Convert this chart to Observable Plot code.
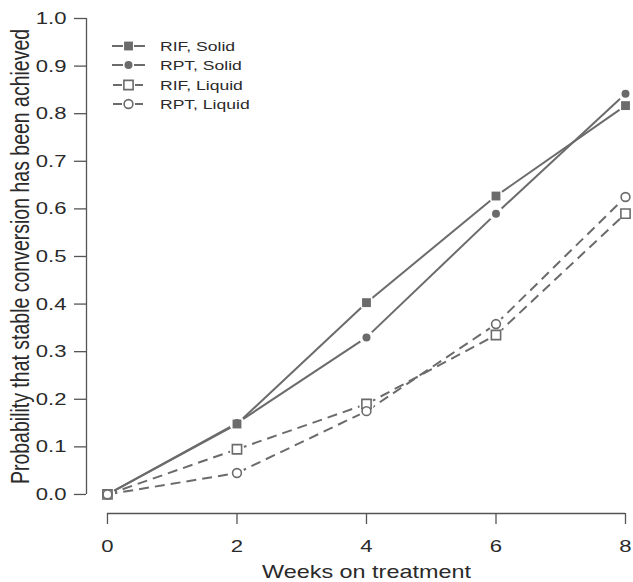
<!DOCTYPE html>
<html><head><meta charset="utf-8">
<script src="https://cdn.jsdelivr.net/npm/d3@7"></script>
<script src="https://cdn.jsdelivr.net/npm/@observablehq/plot@0.6"></script>
<style>
body{margin:0;background:#fff;}
#chart{position:relative;width:633px;height:582px;}
</style>
</head><body><div id="chart"></div>
<script>
// ---- data ----
const weeks = [0, 2, 4, 6, 8];
const seriesNames = ["RIF, Solid", "RPT, Solid", "RIF, Liquid", "RPT, Liquid"];
const rifSolid  = [0, 0.148, 0.403, 0.627, 0.817];
const rptSolid  = [0, 0.150, 0.330, 0.590, 0.842];
const rifLiquid = [0, 0.095, 0.190, 0.335, 0.590];
const rptLiquid = [0, 0.045, 0.175, 0.358, 0.625];
const xTicks = [0, 2, 4, 6, 8];
const yTicks = [0, 0.1, 0.2, 0.3, 0.4, 0.5, 0.6, 0.7, 0.8, 0.9, 1.0];
const xTitle = "Weeks on treatment";
const yTitle = "Probability that stable conversion has been achieved";

// ---- styles ----
const lineColor = "#6b6b6b";
const axisColor = "#555";
const textColor = "#2a2a2a";
const dash = "10,6";
const stretch = 1.3; // glyphs in the reference are horizontally widened
const font = "'Liberation Sans', Arial, sans-serif";

const series = [
  {name: seriesNames[0], values: rifSolid,  symbol: "square", filled: true,  dashed: false, r: 5},
  {name: seriesNames[1], values: rptSolid,  symbol: "circle", filled: true,  dashed: false, r: 4},
  {name: seriesNames[2], values: rifLiquid, symbol: "square", filled: false, dashed: true,  r: 5.2},
  {name: seriesNames[3], values: rptLiquid, symbol: "circle", filled: false, dashed: true,  r: 4.4}
];

const points = series.flatMap(s => weeks.map((w, i) => ({name: s.name, week: w, p: s.values[i], s})));
const segments = series.flatMap(s => weeks.slice(1).map((w, i) => ({
  name: s.name, x1: weeks[i], y1: s.values[i], x2: w, y2: s.values[i + 1], dashed: s.dashed
})));

const xDomain = [-0.324, 8];
const yDomain = [-0.04, 1];

const chart = Plot.plot({
  width: 633,
  height: 582,
  marginLeft: 86,
  marginRight: 8,
  marginTop: 18,
  marginBottom: 69,
  x: {domain: xDomain},
  y: {domain: yDomain},
  style: {fontFamily: font, fontSize: "17px", color: textColor, background: "#fff"},
  marks: [
    Plot.ruleY([yDomain[0]], {x1: xTicks[0], x2: xTicks[xTicks.length - 1], stroke: axisColor, strokeWidth: 1.3}),
    Plot.ruleX([xDomain[0]], {y1: yTicks[0], y2: yTicks[yTicks.length - 1], stroke: axisColor, strokeWidth: 1.3}),
    Plot.axisX({ticks: xTicks, tickSize: 11, tickPadding: 15, fontSize: 17, label: null, tickFormat: d => String(d), stroke: axisColor, strokeWidth: 1.3}),
    Plot.axisY({ticks: yTicks, tickSize: 12, tickPadding: 8, fontSize: 17, label: null, tickFormat: d3.format(".1f"), stroke: axisColor, strokeWidth: 1.3}),
    Plot.link(segments.filter(d => !d.dashed), {
      x1: "x1", y1: "y1", x2: "x2", y2: "y2", stroke: lineColor, strokeWidth: 2
    }),
    Plot.link(segments.filter(d => d.dashed), {
      x1: "x1", y1: "y1", x2: "x2", y2: "y2", stroke: lineColor, strokeWidth: 2, strokeDasharray: dash
    }),
    // white halo so that lines stop short of the symbols (R type = "b")
    Plot.dot(points, {x: "week", y: "p", r: 7.5, fill: "white", stroke: null}),
    Plot.dot(points.filter(d => d.s.filled && d.s.symbol === "square"), {x: "week", y: "p", symbol: "square", r: 5, fill: lineColor}),
    Plot.dot(points.filter(d => d.s.filled && d.s.symbol === "circle"), {x: "week", y: "p", symbol: "circle", r: 4, fill: lineColor}),
    Plot.dot(points.filter(d => !d.s.filled && d.s.symbol === "square"), {x: "week", y: "p", symbol: "square", r: 5.2, fill: "white", stroke: lineColor, strokeWidth: 1.6}),
    Plot.dot(points.filter(d => !d.s.filled && d.s.symbol === "circle"), {x: "week", y: "p", symbol: "circle", r: 4.4, fill: "white", stroke: lineColor, strokeWidth: 1.6}),
    Plot.text([xTitle], {x: 4, y: yDomain[0], dy: 59, text: d => d, fontSize: 18, fill: textColor}),
    Plot.text([yTitle], {x: xDomain[0], y: 0.5, dx: -66, rotate: -90, text: d => d, fontSize: 19.5, fill: textColor})
  ]
});

// ---- legend ----
const svg = d3.select(chart);
const lg = svg.append("g").attr("font-family", font).attr("font-size", 13.5).attr("text-anchor", "start");
const rowY = [46, 65, 85, 104];
series.forEach((s, i) => {
  const y = rowY[i];
  const g = lg.append("g");
  const segs = s.dashed ? [[113, 122], [135, 143]] : [[112, 123], [134, 145]];
  segs.forEach(([a, b]) => g.append("line").attr("x1", a).attr("x2", b).attr("y1", y).attr("y2", y)
    .attr("stroke", lineColor).attr("stroke-width", 2));
  const sym = s.symbol === "square" ? d3.symbolSquare : d3.symbolCircle;
  const size = Math.PI * s.r * s.r;
  g.append("path").attr("d", d3.symbol(sym, size)()).attr("transform", `translate(128.5,${y})`)
    .attr("fill", s.filled ? lineColor : "white")
    .attr("stroke", s.filled ? "none" : lineColor).attr("stroke-width", 1.6);
  g.append("text").attr("x", 160).attr("y", y).attr("dy", "0.35em").attr("fill", textColor).text(s.name);
});

// widen glyphs around their anchor, as in the reference
const isNum = v => v != null && /^-?[\d.]+$/.test(v.trim());
svg.selectAll("text").each(function() {
  const el = this;
  const isY = el.textContent === yTitle;
  let tx = 0, ty = 0;
  const ax = el.getAttribute("x"), ay = el.getAttribute("y");
  if (isNum(ax)) { tx = +ax; el.removeAttribute("x"); }
  if (isNum(ay)) { ty = +ay; el.removeAttribute("y"); }
  const t = el.getAttribute("transform") || "";
  el.setAttribute("transform", `${t} translate(${tx},${ty}) ${isY ? `scale(1,${stretch})` : `scale(${stretch},1)`}`);
});

document.getElementById("chart").appendChild(chart);
</script>
</body></html>
